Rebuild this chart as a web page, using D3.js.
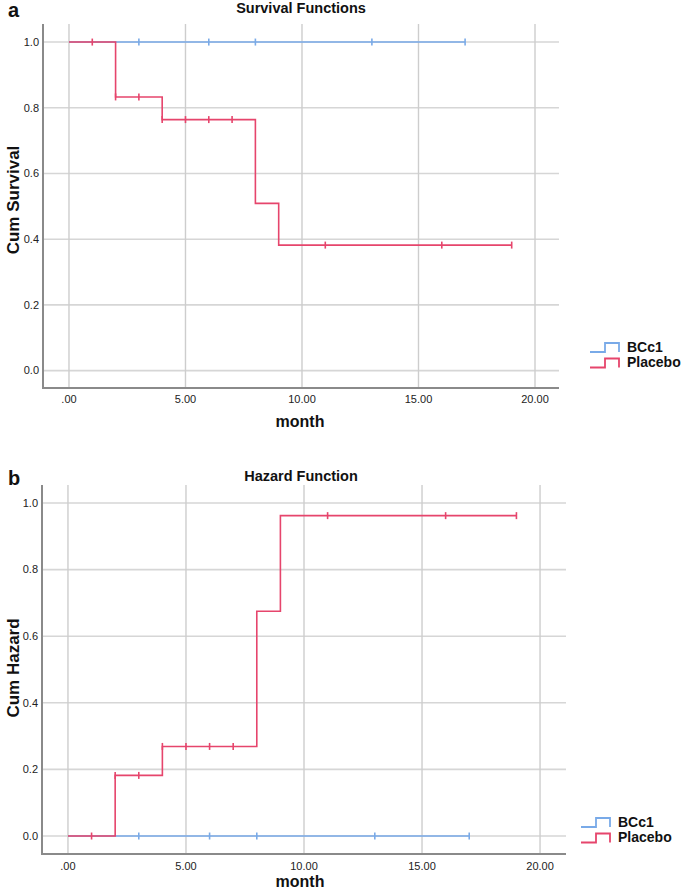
<!DOCTYPE html>
<html><head><meta charset="utf-8">
<script src="https://cdn.jsdelivr.net/npm/d3@7"></script>
<style>body{margin:0;background:#fff}svg{display:block}</style>
</head><body><svg id="c" width="685" height="891"></svg>
<script>
// ---- data ----
const xTicks = [0, 5, 10, 15, 20];
const xTickLabels = [".00", "5.00", "10.00", "15.00", "20.00"];
const yTicks = [0, 0.2, 0.4, 0.6, 0.8, 1.0];
const yTickLabels = ["0.0", "0.2", "0.4", "0.6", "0.8", "1.0"];
const groups = ["BCc1", "Placebo"];
const bcc1Times = [0, 17];
const bcc1Survival = [1, 1];
const bcc1Hazard = [0, 0];
const bcc1Censored = [3, 6, 8, 13, 17];
const placeboTimes = [0, 2, 4, 8, 9, 19];
const placeboSurvival = [1, 0.833, 0.764, 0.509, 0.382, 0.382];
const placeboHazard = [0, 0.182, 0.269, 0.675, 0.962, 0.962];
const placeboCensored = [1, 2, 3, 4, 5, 6, 7, 11, 16, 19];
const colors = {BCc1: "#79aae8", Placebo: "#e6456c"};

const svg = d3.select("#c");
const FONT = "Liberation Sans, Arial, sans-serif";

function stepAt(times, vals, t) {
  let v = vals[0];
  for (let i = 0; i < times.length; i++) if (times[i] <= t) v = vals[i];
  return v;
}

function panel(cfg) {
  const g = svg.append("g");
  const x = d3.scaleLinear().domain(cfg.xDom).range(cfg.xRange);
  const y = d3.scaleLinear().domain(cfg.yDom).range(cfg.yRange);
  const [x0, x1] = cfg.xRange, [yb, yt] = cfg.yRange;
  // grid
  g.selectAll(".hg").data(yTicks).enter().append("line")
    .attr("x1", x0).attr("x2", x1).attr("y1", d => y(d)).attr("y2", d => y(d))
    .attr("stroke", "#d6d6d6").attr("stroke-width", 1.6);
  g.selectAll(".vg").data(xTicks).enter().append("line")
    .attr("y1", yt).attr("y2", yb).attr("x1", d => x(d)).attr("x2", d => x(d))
    .attr("stroke", "#cdcdcd").attr("stroke-width", 1.4);
  // axes lines
  g.append("line").attr("x1", x0).attr("x2", x0).attr("y1", yt).attr("y2", yb + 1)
    .attr("stroke", "#8a8a8a").attr("stroke-width", 2);
  g.append("line").attr("x1", x0).attr("x2", x1).attr("y1", yb).attr("y2", yb)
    .attr("stroke", "#8a8a8a").attr("stroke-width", 2);
  // tick labels
  g.selectAll(".yl").data(yTicks).enter().append("text")
    .attr("x", x0 - 4).attr("y", d => y(d)).attr("dy", "0.35em")
    .attr("text-anchor", "end").attr("font-family", FONT).attr("font-size", 11)
    .attr("fill", "#222").text((d, i) => yTickLabels[i]);
  g.selectAll(".xl").data(xTicks).enter().append("text")
    .attr("x", d => x(d)).attr("y", cfg.xLabelY).attr("dy", "0.35em")
    .attr("text-anchor", "middle").attr("font-family", FONT).attr("font-size", 11)
    .attr("fill", "#222").text((d, i) => xTickLabels[i]);
  // titles
  g.append("text").attr("x", 301).attr("y", cfg.titleY).attr("dy", "0.35em")
    .attr("text-anchor", "middle").attr("font-family", FONT).attr("font-weight", "bold")
    .attr("font-size", 14.5).attr("fill", "#111").text(cfg.title);
  g.append("text").attr("x", 8).attr("y", cfg.letterY).attr("dy", "0.35em")
    .attr("font-family", FONT).attr("font-weight", "bold")
    .attr("font-size", 20).attr("fill", "#111").text(cfg.letter);
  g.append("text").attr("x", 300).attr("y", cfg.monthY).attr("dy", "0.35em")
    .attr("text-anchor", "middle").attr("font-family", FONT).attr("font-weight", "bold")
    .attr("font-size", 16).attr("fill", "#111").text("month");
  g.append("text").attr("transform", `translate(13,${cfg.yTitleY}) rotate(-90)`)
    .attr("text-anchor", "middle").attr("dy", "0.35em").attr("font-family", FONT)
    .attr("font-weight", "bold").attr("font-size", 17).attr("fill", "#111").text(cfg.yTitle);
  // series
  const line = d3.line().x(d => x(d[0])).y(d => y(d[1])).curve(d3.curveStepAfter);
  cfg.series.forEach(s => {
    const pts = s.times.map((t, i) => [t, s.vals[i]]);
    g.append("path").attr("d", line(pts)).attr("fill", "none")
      .attr("stroke", colors[s.name]).attr("stroke-width", 1.6);
    g.selectAll(null).data(s.cens).enter().append("line")
      .attr("x1", d => x(d)).attr("x2", d => x(d))
      .attr("y1", d => y(stepAt(s.times, s.vals, d)) - 3.5)
      .attr("y2", d => y(stepAt(s.times, s.vals, d)) + 3.5)
      .attr("stroke", colors[s.name]).attr("stroke-width", 1.6);
  });
  // legend
  groups.forEach((name, i) => {
    const ly = cfg.legY + i * 15.5;
    const lx = cfg.legX;
    g.append("path")
      .attr("d", `M${lx},${ly + 5}H${lx + 15}V${ly - 4}H${lx + 29}V${ly + 5}`)
      .attr("fill", "none").attr("stroke", colors[name]).attr("stroke-width", 1.8);
    g.append("text").attr("x", lx + 37).attr("y", ly).attr("dy", "0.35em")
      .attr("font-family", FONT).attr("font-weight", "bold").attr("font-size", 14)
      .attr("fill", "#111").text(name);
  });
}

panel({
  xDom: [-1.115, 21.03], xRange: [43, 559],
  yDom: [-0.053, 1.055], yRange: [388, 24],
  xLabelY: 399, titleY: 8, letterY: 10, monthY: 421, yTitleY: 200,
  title: "Survival Functions", letter: "a", yTitle: "Cum Survival",
  legX: 590, legY: 347,
  series: [
    {name: "BCc1", times: bcc1Times, vals: bcc1Survival, cens: bcc1Censored},
    {name: "Placebo", times: placeboTimes, vals: placeboSurvival, cens: placeboCensored}
  ]
});
panel({
  xDom: [-1.1, 21.1], xRange: [42, 566],
  yDom: [-0.054, 1.054], yRange: [854, 485],
  xLabelY: 866, titleY: 476, letterY: 478, monthY: 881, yTitleY: 668,
  title: "Hazard Function", letter: "b", yTitle: "Cum Hazard",
  legX: 581, legY: 822,
  series: [
    {name: "BCc1", times: bcc1Times, vals: bcc1Hazard, cens: bcc1Censored},
    {name: "Placebo", times: placeboTimes, vals: placeboHazard, cens: placeboCensored}
  ]
});
</script></body></html>
